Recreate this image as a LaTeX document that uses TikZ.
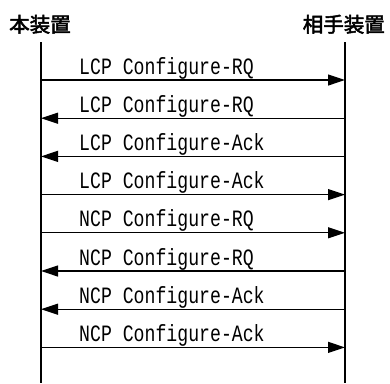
\documentclass[tikz,border=0pt]{standalone}
\usepackage{fontspec}
\setmonofont{Liberation Mono}
\newfontfamily\cjk{Noto Sans CJK JP}[FakeBold=2.5]
\usetikzlibrary{arrows.meta}
\newcommand{\tallmsg}[1]{\scalebox{1.01}[1.3]{#1}}
\begin{document}
\begin{tikzpicture}[x=1pt,y=-1pt,
  lifeline/.style={line width=1.6pt},
  msg/.style={line width=1.2pt,-{Triangle[length=17pt,width=11pt]}},
  msglabel/.style={anchor=base west,inner sep=0pt,font=\ttfamily\fontsize{18}{18}\selectfont},
  head/.style={inner sep=0pt,font=\cjk\fontsize{20.5}{20.5}\selectfont}]
\useasboundingbox (0,0) rectangle (390,383);
\node[head,anchor=base west] (ha) at (9,32) {本装置};
\node[head,anchor=base east] (hb) at (385,32) {相手装置};
\coordinate (at) at (41,42);
\coordinate (ab) at (41,383);
\coordinate (bt) at (345,42);
\coordinate (bb) at (345,383);
\draw[lifeline] (at) -- (ab);
\draw[lifeline] (bt) -- (bb);
\foreach \i/\y/\dir/\t in {1/80/r/LCP Configure-RQ,2/118.2/l/LCP Configure-RQ,3/156.4/l/LCP Configure-Ack,4/194.6/r/LCP Configure-Ack,5/232.8/r/NCP Configure-RQ,6/271/l/NCP Configure-RQ,7/309.2/l/NCP Configure-Ack,8/347.4/r/NCP Configure-Ack}{
  \coordinate (l\i) at (41,\y);
  \coordinate (r\i) at (345,\y);
  \node[msglabel] (t\i) at (79,\y-6) {\tallmsg{\t}};
  \if r\dir
    \draw[msg] (l\i) -- (r\i);
  \else
    \draw[msg] (r\i) -- (l\i);
  \fi
}
\end{tikzpicture}
\end{document}
